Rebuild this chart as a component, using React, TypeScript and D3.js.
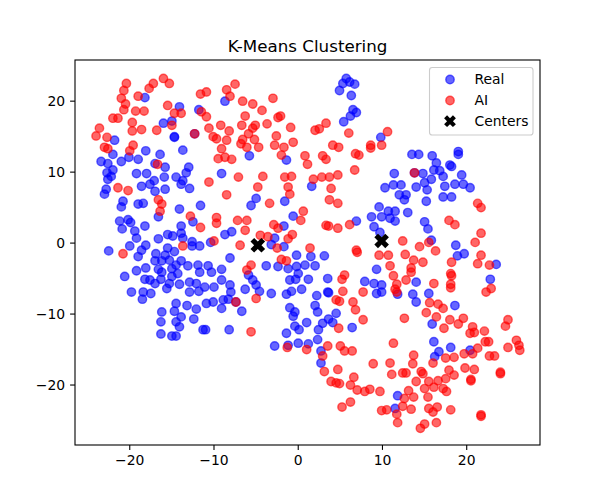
import React, { useEffect, useRef } from 'react';
import * as d3 from 'd3';

type Pt = [number, number];

// cluster points
const realPoints: Pt[] = [
  [-18.2, 20.5], [-14.1, 19.2], [-11.8, 18.8], [-8.7, 20.0], [-16.0, 16.9], [-15.0, 17.2], [-14.7, 15.0], [-14.7, 14.9],
  [-21.8, 14.5], [-13.7, 13.1], [-18.1, 13.0], [-16.4, 12.5], [-22.0, 12.5], [-23.4, 11.5], [-22.6, 11.2], [-21.0, 11.5],
  [-20.1, 12.1], [-19.0, 11.8], [-17.0, 11.2], [-15.8, 10.7], [-13.0, 10.7], [-13.3, 9.9], [-22.7, 9.9], [-22.0, 10.3],
  [-22.2, 9.4], [-22.6, 9.0], [-19.2, 9.8], [-18.0, 9.8], [-17.1, 8.8], [-17.6, 8.3], [-15.9, 9.3], [-14.5, 9.3],
  [-13.7, 8.8], [-13.9, 8.3], [-9.1, 9.8], [-18.6, 8.0], [-12.9, 7.7], [-22.8, 7.6], [-15.8, 7.6],
  [5.7, 23.2], [6.1, 22.7], [5.3, 22.5], [6.7, 22.4], [4.9, 21.5], [6.3, 20.8], [6.5, 18.8], [6.9, 18.4], [6.2, 17.9],
  [5.4, 17.1], [-5.8, 12.3], [-1.4, 11.7], [9.8, 14.9], [1.6, 8.0], [10.3, 7.8],
  [13.5, 12.5], [14.3, 12.5], [15.9, 12.3], [19.0, 12.9], [19.0, 12.5], [16.4, 11.3], [18.0, 11.0], [18.2, 10.8],
  [11.4, 9.8], [14.8, 9.8], [16.1, 10.3], [16.8, 10.2], [17.2, 9.4], [19.4, 9.6], [15.8, 9.0], [15.0, 8.5],
  [11.3, 8.2], [12.2, 8.2], [14.0, 7.9], [17.4, 8.0], [18.6, 8.3], [19.6, 8.3], [20.4, 7.8], [13.8, 9.9],
  [-23.0, 6.9], [-17.0, 7.3], [-20.8, 5.9], [-21.0, 5.1], [-19.0, 5.5], [-18.4, 5.6], [-16.6, 3.7], [-14.1, 4.8],
  [-11.6, 5.3], [-21.2, 3.1], [-20.2, 3.3], [-19.9, 2.9], [-18.2, 2.4], [-20.9, 2.0], [-19.4, 1.7], [-13.9, 2.4],
  [-12.5, 3.0], [-19.2, 0.7], [-16.6, 0.6], [-15.5, 1.2], [-14.9, 1.0], [-13.9, 1.4], [-13.7, 0.7], [-12.6, 0.2],
  [-12.6, -0.4], [-11.7, -0.4], [-10.4, 0.1], [-8.7, 1.2], [-7.9, 1.6], [-22.5, -1.1], [-20.0, -0.4], [-18.1, -0.3],
  [-18.6, -1.0], [-19.0, -1.9], [-16.9, -1.5], [-15.5, -0.7], [-14.7, -1.2], [-15.8, -1.7], [-17.0, -2.5], [-16.2, -2.5],
  [-15.3, -2.4], [-13.9, -2.5], [-14.5, -3.1], [-13.1, -3.2], [-11.9, -3.1], [-10.7, -3.2], [-8.1, -2.1], [-18.1, -3.5],
  [-16.6, -3.7], [-16.2, -4.1], [-15.0, -3.6], [-14.3, -4.3], [-11.7, -4.1], [-10.3, -4.1], [-9.1, -3.7], [-19.2, -3.9],
  [-20.6, -4.7], [-18.2, -5.1], [-17.6, -5.2], [-17.0, -5.7], [-16.3, -5.1], [-15.0, -4.7], [-15.3, -5.7], [-14.1, -5.8],
  [-12.9, -5.5], [-12.1, -5.7], [-11.1, -6.2], [-10.0, -6.2], [-9.1, -5.2], [-8.1, -5.9], [-15.6, -6.4], [-12.9, -6.9],
  [-11.8, -6.8], [-19.8, -6.9], [-18.4, -6.9], [-17.5, -7.1], [-18.5, -7.9], [-14.5, -8.5], [-13.2, -8.8], [-12.1, -9.3],
  [-10.9, -8.5], [-10.1, -8.3], [-8.9, -8.0], [-8.3, -7.9], [-9.1, -9.2], [-16.2, -9.7], [-14.7, -9.6], [-8.0, -6.9],
  [-7.4, -8.3],
  [-5.0, 6.3], [-5.6, 5.3], [-1.6, 5.9], [-0.6, 3.8], [-1.7, 2.4], [-2.8, 0.7], [-3.2, -0.2], [-1.7, -0.5],
  [-0.2, -1.7], [1.5, -1.9], [3.1, -1.8], [6.9, 3.1], [8.7, 3.7], [9.6, 5.1], [9.0, 2.3], [9.7, 1.5],
  [-3.8, -3.2], [-2.4, -3.3], [-1.2, -3.6], [-0.2, -3.3], [0.8, -3.1], [2.0, -3.2], [0.0, -4.3], [-1.0, -5.2],
  [-0.3, -5.1], [1.2, -5.1], [3.5, -5.0], [9.3, -3.7], [7.9, -5.4], [9.0, -5.7], [9.9, -5.9], [-5.9, -4.5],
  [-5.4, -5.2], [-5.0, -5.9], [-4.6, -6.8], [-6.3, -6.5], [-3.2, -7.1], [-1.4, -7.2], [-0.8, -6.8], [0.4, -6.5],
  [2.2, -7.4], [3.5, -6.9], [3.6, -7.0], [2.0, -8.8], [-1.0, -9.1], [-0.4, -9.7], [4.5, -9.9], [9.3, -7.1],
  [9.9, -6.9], [-6.7, -9.6],
  [15.3, 7.5], [12.0, 6.8], [12.8, 6.8], [12.6, 6.1], [15.2, 5.9], [17.2, 6.5], [18.2, 6.5], [10.7, 4.5],
  [11.5, 4.5], [13.0, 4.3], [10.9, 3.5], [11.5, 3.1], [9.9, 3.7], [15.0, 3.0], [15.4, 2.0], [15.8, 0.4],
  [18.7, -0.3], [18.9, -1.8], [19.7, -1.5], [23.5, -3.0], [22.8, -5.1], [14.0, -5.5], [11.8, -7.2], [13.6, -7.2],
  [15.5, -7.1], [14.0, -8.3], [18.6, -8.8],
  [-13.9, -10.4], [-16.3, -11.1], [-14.5, -11.1], [-14.1, -11.8], [-12.4, -10.7], [-11.3, -12.2], [-11.0, -12.2],
  [-8.2, -12.2], [-16.3, -12.8], [-15.0, -13.1], [-14.5, -13.1],
  [-0.6, -10.3], [2.3, -9.7], [3.6, -10.7], [4.1, -11.2], [2.9, -11.3], [1.0, -11.2], [-0.4, -11.7], [0.1, -12.2],
  [2.4, -12.2], [6.4, -11.9], [-1.4, -12.7], [-2.8, -14.5], [-1.2, -14.4], [0.0, -14.1], [1.2, -14.2], [2.3, -13.6],
  [2.7, -15.2], [2.7, -16.9],
  [15.9, -11.4], [16.1, -13.9], [16.7, -15.3], [18.1, -14.7], [16.2, -16.0], [20.4, -15.1], [11.8, -21.5], [11.5, -23.3],
  [-12.3, 15.4],
];

const aiPoints: Pt[] = [
  [-16.0, 23.2], [-15.3, 22.5], [-20.4, 22.5], [-17.2, 22.5], [-17.7, 21.8], [-20.7, 21.5], [-21.0, 20.4], [-19.0, 20.7],
  [-20.5, 19.6], [-20.7, 18.8], [-19.3, 18.6], [-18.3, 18.6], [-15.5, 19.4], [-14.7, 18.3], [-13.9, 18.3], [-11.6, 21.0],
  [-10.9, 21.3], [-8.5, 21.6], [-7.5, 22.4], [-8.1, 20.7], [-11.5, 18.5], [-10.9, 17.8], [-22.0, 17.6], [-21.4, 17.6],
  [-19.7, 17.0], [-23.6, 16.2], [-24.0, 15.1], [-22.7, 14.9], [-19.7, 15.8], [-18.6, 16.0], [-16.8, 15.9], [-15.0, 16.6],
  [-12.3, 15.4], [-10.6, 16.2], [-9.2, 16.6], [-8.2, 15.8], [-10.1, 15.0], [-9.7, 14.7], [-8.5, 14.5], [-19.6, 13.8],
  [-20.0, 13.0], [-23.0, 13.5], [-22.6, 13.3], [-9.1, 13.3], [-9.5, 11.9], [-8.7, 12.1], [-7.9, 11.8], [-16.7, 11.1],
  [-10.6, 8.6], [-21.4, 7.8], [-20.2, 7.4],
  [-6.6, 20.0], [-5.4, 19.6], [-4.3, 18.7], [-3.0, 20.4], [-6.3, 17.9], [-6.7, 16.6], [-5.1, 16.6], [-5.4, 16.2],
  [-3.7, 16.8], [-2.4, 17.7], [-2.1, 17.9], [-0.9, 16.3], [-5.9, 15.4], [-6.6, 14.6], [-5.2, 14.6], [-6.8, 14.0],
  [-6.1, 13.5], [-4.7, 13.5], [-2.6, 15.1], [-2.8, 13.8], [-1.7, 13.5], [-0.6, 14.2], [-2.0, 12.4], [0.8, 12.3],
  [1.1, 11.1], [2.0, 15.9], [2.5, 16.1], [3.3, 16.9], [4.1, 13.8], [4.8, 13.5], [2.9, 12.3], [3.3, 11.8],
  [6.0, 15.5], [6.8, 12.6], [7.2, 12.4], [8.6, 13.8], [8.6, 13.4], [9.9, 13.8], [6.7, 10.3], [-7.1, 9.3],
  [-4.2, 9.4], [-1.6, 9.3], [-0.8, 9.4], [-4.8, 7.9], [-1.2, 7.9], [1.8, 9.0], [2.8, 9.3], [3.7, 9.3],
  [4.7, 9.6], [3.9, 7.7], [10.6, 15.7], [13.8, 9.9],
  [-16.6, 6.1], [-16.2, 5.5], [-16.4, 4.5], [-12.8, 3.8], [-11.6, 2.2], [-9.7, 3.6], [-9.7, 2.8], [-8.5, 6.8],
  [-10.0, 0.3], [-13.7, -0.4], [-20.8, -1.5], [-7.4, -8.3],
  [-1.0, 6.9], [-3.4, 5.6], [0.6, 4.5], [0.3, 3.2], [3.7, 6.1], [4.7, 5.6], [-7.2, 3.2], [-6.1, 3.2],
  [-6.3, 1.8], [-2.9, 2.6], [-2.4, 2.1], [-4.5, 1.1], [-3.6, 0.9], [-1.2, 0.6], [-0.7, 1.2], [-6.9, -0.3],
  [-2.5, -0.7], [1.4, -0.7], [3.3, 2.5], [3.6, 2.4], [4.7, 2.1], [6.1, 2.6], [6.9, -1.0], [7.0, -1.3],
  [9.6, -1.7], [-2.0, -2.3], [-1.4, -2.5], [-5.6, -3.1], [-6.1, -3.8], [5.5, -4.5], [5.2, -5.1], [5.3, -6.8],
  [7.7, -6.9], [-5.0, -7.8], [4.5, -8.0], [4.9, -8.2], [6.5, -8.3], [6.8, -9.4],
  [21.3, 5.6], [21.7, 5.0], [17.9, 3.2], [18.6, 2.6], [21.7, 1.4], [12.4, 0.3], [14.4, -0.5], [15.5, 0.1],
  [16.3, -1.1], [21.0, 0.1], [10.7, -1.7], [12.7, -1.6], [13.7, -2.4], [14.8, -2.7], [21.7, -1.7], [21.3, -2.9],
  [22.7, -3.1], [18.2, -2.7], [10.9, -3.2], [13.4, -3.5], [13.4, -4.1], [18.1, -4.3], [18.2, -4.6], [11.3, -4.6],
  [12.8, -5.2], [16.1, -5.7], [18.1, -5.8], [18.1, -6.3], [11.7, -5.8], [11.5, -6.5], [11.7, -6.9], [22.9, -6.4],
  [22.3, -6.9], [15.6, -8.4], [16.6, -8.6], [17.2, -9.2], [15.2, -9.8],
  [-5.6, -12.5], [4.8, -12.0], [7.7, -10.8], [-1.3, -14.7], [1.0, -15.0], [3.5, -14.5], [5.0, -14.5], [5.5, -15.2],
  [6.4, -15.2], [2.9, -15.9], [8.9, -17.0], [4.7, -17.8], [3.1, -18.1], [3.9, -19.5], [4.5, -19.7], [4.9, -19.8],
  [6.6, -18.9], [6.2, -20.0], [7.0, -20.7], [7.9, -20.9], [8.5, -20.6], [9.7, -20.9], [6.2, -22.4], [5.2, -23.1],
  [9.9, -23.6],
  [12.6, -10.6], [16.4, -10.4], [17.3, -12.0], [18.0, -10.8], [19.0, -11.4], [19.6, -10.6], [20.7, -11.8], [20.4, -12.7],
  [20.9, -12.6], [22.1, -12.4], [24.9, -10.8], [24.6, -11.7], [22.2, -13.9], [22.6, -13.9], [25.9, -13.7], [26.2, -14.4],
  [26.3, -15.1], [24.9, -14.7], [22.7, -15.9], [23.3, -15.9], [21.3, -14.8], [19.7, -15.6], [20.7, -15.6], [11.3, -14.1],
  [13.7, -15.8], [17.5, -16.2], [18.5, -16.1], [16.0, -16.9], [10.9, -16.9], [13.6, -17.0], [11.1, -18.5], [12.4, -18.3],
  [12.8, -18.3], [14.6, -18.1], [14.8, -18.4], [17.9, -17.9], [19.8, -17.6], [20.9, -17.8], [24.0, -18.4], [24.0, -18.2],
  [14.0, -19.5], [15.5, -19.5], [16.6, -19.4], [17.5, -19.1], [18.5, -18.6], [20.5, -19.4], [20.5, -19.2], [15.0, -20.5],
  [16.1, -20.3], [17.2, -20.5], [17.6, -20.9], [13.1, -20.8], [12.6, -21.9], [13.7, -21.7], [15.4, -21.7], [12.4, -23.0],
  [13.4, -23.4], [10.5, -23.5], [15.5, -23.3], [16.5, -23.1], [16.0, -23.8], [18.1, -23.5], [11.7, -24.1], [11.8, -25.3],
  [21.7, -24.4], [21.7, -24.2], [15.0, -25.5], [14.5, -26.1], [16.4, -25.3],
];

const centers: Pt[] = [[-4.8, -0.3], [9.9, 0.3]];

const xTicks = [-20, -10, 0, 10, 20];
const yTicks = [-20, -10, 0, 10, 20];
const legendLabels = ['Real', 'AI', 'Centers'];

// filled "X" marker, same outline matplotlib uses
const plusVerts: Pt[] = [
  [-1, -3], [1, -3], [1, -1], [3, -1], [3, 1], [1, 1], [1, 3], [-1, 3], [-1, 1], [-3, 1], [-3, -1], [-1, -1],
];
const xMarker = (size: number) => {
  const k = size / 6 / Math.SQRT2;
  const pts = plusVerts.map(([a, b]) => [(a - b) * k, (a + b) * k] as Pt);
  return 'M' + pts.map(p => p.join(',')).join('L') + 'Z';
};

const App: React.FC = () => {
  const svgRef = useRef<SVGSVGElement | null>(null);

  useEffect(() => {
    if (!svgRef.current) return;
    document.body.style.margin = '0';

    const fullWidth = 600;
    const fullHeight = 500;
    const box = { left: 75, right: 540, top: 60, bottom: 445 };
    const font = 'DejaVu Sans, sans-serif';
    const tickFont = 13.9;
    const tickLen = 4.9;

    const svg = d3.select(svgRef.current).attr('width', fullWidth).attr('height', fullHeight);
    svg.selectAll('*').remove();

    svg.append('rect').attr('width', fullWidth).attr('height', fullHeight).attr('fill', '#ffffff');

    const x = d3.scaleLinear().domain([-26.5, 28.7]).range([box.left, box.right]);
    const y = d3.scaleLinear().domain([-28.45, 25.8]).range([box.bottom, box.top]);
    const fmt = d3.format('d');

    // points: Real first, AI drawn on top
    const drawPoints = (pts: Pt[], color: string) => {
      svg
        .append('g')
        .selectAll('circle')
        .data(pts)
        .join('circle')
        .attr('cx', d => x(d[0]))
        .attr('cy', d => y(d[1]))
        .attr('r', 4.2)
        .attr('fill', color)
        .attr('fill-opacity', 0.6)
        .attr('stroke', color)
        .attr('stroke-opacity', 0.6)
        .attr('stroke-width', 1.4);
    };
    drawPoints(realPoints, '#0000ff');
    drawPoints(aiPoints, '#ff0000');

    svg
      .append('g')
      .selectAll('path')
      .data(centers)
      .join('path')
      .attr('d', xMarker(15.5))
      .attr('transform', d => `translate(${x(d[0])},${y(d[1])})`)
      .attr('fill', '#000000');

    // frame
    svg
      .append('rect')
      .attr('x', box.left)
      .attr('y', box.top)
      .attr('width', box.right - box.left)
      .attr('height', box.bottom - box.top)
      .attr('fill', 'none')
      .attr('stroke', '#000000')
      .attr('stroke-width', 1.1);

    // x axis
    const xg = svg.append('g');
    xTicks.forEach(t => {
      xg.append('line')
        .attr('x1', x(t)).attr('x2', x(t))
        .attr('y1', box.bottom).attr('y2', box.bottom + tickLen)
        .attr('stroke', '#000000').attr('stroke-width', 1.1);
      xg.append('text')
        .attr('x', x(t))
        .attr('y', box.bottom + tickLen + 4.9)
        .attr('dy', '0.76em')
        .attr('text-anchor', 'middle')
        .attr('font-family', font)
        .attr('font-size', `${tickFont}px`)
        .text(fmt(t));
    });

    // y axis
    const yg = svg.append('g');
    yTicks.forEach(t => {
      yg.append('line')
        .attr('x1', box.left - tickLen).attr('x2', box.left)
        .attr('y1', y(t)).attr('y2', y(t))
        .attr('stroke', '#000000').attr('stroke-width', 1.1);
      yg.append('text')
        .attr('x', box.left - tickLen - 4.9)
        .attr('y', y(t))
        .attr('dy', '0.35em')
        .attr('text-anchor', 'end')
        .attr('font-family', font)
        .attr('font-size', `${tickFont}px`)
        .text(fmt(t));
    });

    // title
    svg
      .append('text')
      .attr('x', (box.left + box.right) / 2)
      .attr('y', box.top - 8.3)
      .attr('text-anchor', 'middle')
      .attr('font-family', font)
      .attr('font-size', '16.7px')
      .text('K-Means Clustering');

    // legend
    const lg = svg.append('g');
    lg.append('rect')
      .attr('x', 429.5)
      .attr('y', 67.5)
      .attr('width', 103.5)
      .attr('height', 67.5)
      .attr('rx', 2.8)
      .attr('fill', '#ffffff')
      .attr('fill-opacity', 0.8)
      .attr('stroke', '#cccccc')
      .attr('stroke-width', 1.1);
    const rowY = [79.5, 100.5, 121.2];
    const colors = ['#0000ff', '#ff0000'];
    legendLabels.forEach((label, i) => {
      if (i < 2) {
        lg.append('circle')
          .attr('cx', 450).attr('cy', rowY[i]).attr('r', 4.2)
          .attr('fill', colors[i]).attr('fill-opacity', 0.6)
          .attr('stroke', colors[i]).attr('stroke-opacity', 0.6).attr('stroke-width', 1.4);
      } else {
        lg.append('path')
          .attr('d', xMarker(12.5))
          .attr('transform', `translate(450,${rowY[i]})`)
          .attr('fill', '#000000');
      }
      lg.append('text')
        .attr('x', 474.5)
        .attr('y', rowY[i])
        .attr('dy', '0.35em')
        .attr('font-family', font)
        .attr('font-size', `${tickFont}px`)
        .text(label);
    });
  }, []);

  return <svg ref={svgRef} style={{ display: 'block' }} />;
};

export default App;
